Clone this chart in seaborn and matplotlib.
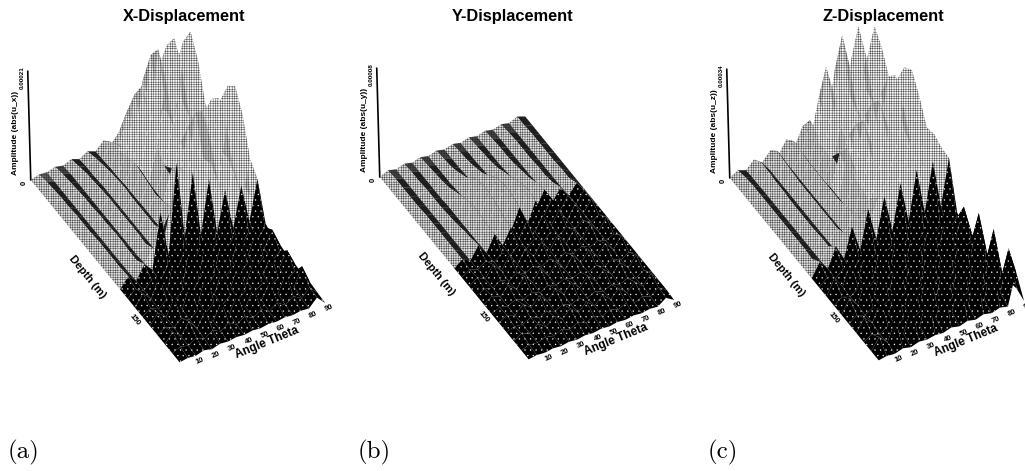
import numpy as np
import matplotlib as mpl
mpl.use("Agg")
import matplotlib.pyplot as plt
import seaborn as sns
from mpl_toolkits.mplot3d.art3d import Poly3DCollection

# -----------------------------
# data (height in % of the z axis)
# -----------------------------
thetas = list(range(0, 95, 5))
depths = list(range(0, 210, 10))
theta_ticks = [10, 20, 30, 40, 50, 60, 70, 80, 90]

x_disp = [
    [0,2,1,3,1,4,1,5,2,9,3,12,4,18,6,20,6,18,3],
    [0,4,1,5,2,6,2,8,3,16,6,38,14,62,24,68,26,60,10],
    [0,5,1,6,2,8,2,10,4,22,9,62,26,92,40,95,42,92,14],
    [0,6,1,7,2,9,3,12,4,24,12,78,32,106,46,110,48,110,16],
    [0,6,1,8,2,10,3,13,5,24,12,62,30,88,40,92,42,92,14],
    [0,7,1,8,2,11,3,14,5,22,10,40,20,55,26,60,28,60,12],
    [0,7,1,9,2,11,3,13,5,20,9,30,16,46,24,52,26,56,12],
    [0,7,1,9,2,11,3,13,5,18,9,36,20,68,34,74,36,80,14],
    [0,8,1,10,2,11,3,13,5,20,11,46,26,90,44,96,46,102,16],
    [0,8,1,10,2,11,3,13,6,24,12,50,28,100,48,105,48,110,16],
    [0,8,1,9,2,10,3,16,8,30,12,46,22,82,38,88,40,92,14],
    [0,8,1,9,3,14,6,40,14,45,14,40,16,55,24,60,26,60,10],
    [0,9,2,14,6,55,14,95,24,80,20,68,16,52,14,50,14,50,6],
    [0,6,1,8,3,16,5,22,6,20,6,18,5,16,5,16,5,14,2],
    [0,10,2,20,4,38,6,46,8,44,8,38,7,30,6,24,6,20,3],
    [0,5,1,7,2,10,3,12,4,12,4,11,3,10,3,9,3,8,1],
    [0,9,2,16,3,24,4,28,5,26,5,24,5,22,5,20,5,18,2],
    [0,4,1,6,2,8,2,9,3,9,3,8,3,8,3,7,3,7,1],
    [0,8,1,12,2,16,3,18,4,18,4,18,4,18,4,20,4,20,2],
    [0,3,1,5,1,6,2,7,2,7,2,7,2,7,2,7,2,9,1],
    [0,1,0,2,0,2,1,2,1,2,1,2,1,2,1,2,1,8,0],
]
y_disp = [
    [0,3,1,3,1,3,1,3,1,3,1,3,1,3,1,3,1,4,1],
    [0,4,1,4,1,4,1,4,1,4,1,4,1,4,1,4,1,4,1],
    [0,4,1,4,1,5,1,5,1,5,1,5,1,5,1,5,1,5,1],
    [0,4,1,5,1,6,1,8,2,7,2,6,1,5,1,5,1,5,1],
    [0,4,1,5,1,8,2,12,2,10,2,8,2,6,1,5,1,5,1],
    [0,5,1,5,2,12,2,20,3,16,3,12,2,8,1,6,1,5,1],
    [0,5,1,6,2,16,3,24,3,22,3,16,3,10,2,6,1,6,1],
    [0,5,1,7,2,18,3,24,4,24,3,20,3,14,2,8,1,6,1],
    [0,5,1,9,2,18,3,22,4,24,3,22,3,16,2,12,2,10,1],
    [0,5,1,10,2,16,3,18,3,20,3,20,3,16,2,13,2,12,1],
    [0,5,1,12,2,16,3,16,3,16,3,16,3,14,2,14,2,12,1],
    [0,4,1,6,2,7,2,8,2,8,2,8,2,7,2,7,2,6,1],
    [0,5,1,11,2,14,2,14,3,14,3,14,3,13,2,12,2,12,1],
    [0,3,1,5,1,6,2,6,2,6,2,6,2,6,2,5,2,5,1],
    [0,5,1,9,2,11,2,12,2,12,2,12,2,11,2,11,2,12,1],
    [0,3,1,4,1,5,1,5,2,5,2,5,2,5,1,5,1,5,1],
    [0,4,1,8,2,10,2,10,2,10,2,10,2,10,2,10,2,11,1],
    [0,2,1,4,1,4,1,4,1,4,1,4,1,4,1,4,1,5,1],
    [0,4,1,7,1,8,2,9,2,9,2,9,2,9,2,9,2,11,1],
    [0,2,1,3,1,4,1,4,1,4,1,4,1,4,1,4,1,6,1],
    [0,1,0,1,0,1,0,1,0,1,0,1,0,1,0,1,0,5,0],
]
z_disp = [
    [0,4,1,8,2,10,3,14,4,20,6,40,14,60,22,62,22,58,8],
    [0,6,2,13,4,18,5,21,7,34,12,77,30,100,40,102,40,96,14],
    [0,7,2,13,4,16,5,20,7,30,12,62,26,80,34,84,36,84,14],
    [0,7,2,12,4,15,5,18,7,26,10,42,18,52,24,60,28,64,12],
    [0,7,2,12,4,14,5,18,7,26,12,40,20,52,26,66,32,72,12],
    [0,7,2,11,4,14,5,18,8,38,16,58,26,72,36,90,44,92,14],
    [0,7,2,11,4,14,5,18,8,51,20,70,32,82,44,99,46,98,16],
    [0,7,2,11,4,14,5,18,8,42,18,60,28,70,36,82,40,82,14],
    [0,7,2,11,4,14,5,20,8,32,14,45,20,52,26,60,28,62,12],
    [0,7,2,12,4,14,6,22,8,28,12,38,18,48,24,60,28,64,10],
    [0,6,2,12,4,18,8,30,12,38,14,44,20,55,24,62,26,60,10],
    [0,12,3,20,6,32,8,42,12,48,14,54,16,60,18,62,18,59,6],
    [0,6,2,8,3,10,3,10,4,12,4,12,4,12,4,12,4,12,2],
    [0,14,3,24,5,34,6,38,7,40,7,40,7,38,6,34,6,31,3],
    [0,5,2,7,2,8,3,8,3,8,3,8,3,8,3,8,3,8,1],
    [0,12,3,24,5,32,6,36,7,38,7,38,7,38,6,40,6,42,3],
    [0,5,2,6,2,8,3,8,3,8,3,8,3,8,3,8,3,8,1],
    [0,11,3,22,5,30,6,34,7,36,7,38,7,38,6,40,6,44,3],
    [0,4,1,6,2,7,2,8,2,8,2,8,2,8,2,8,2,8,1],
    [0,10,2,20,4,28,5,32,6,34,6,36,6,38,5,40,5,43,3],
    [0,1,0,2,0,2,1,2,1,3,1,3,1,3,1,3,1,30,0],
]

titles = ["X-Displacement", "Y-Displacement", "Z-Displacement"]
captions = ["(a)", "(b)", "(c)"]
z_tops = ["0.00021", "0.00008", "0.00034"]
z_names = ["Amplitude (abs(u_x))", "Amplitude (abs(u_y))", "Amplitude (abs(u_z))"]
# depth where the surface turns dark, one value per theta cell
dark_x = [120] * 18
dark_y = [100, 100, 100, 100, 100, 100, 100, 100, 90, 90, 90, 90, 80, 80, 80, 80, 80, 80]
dark_z = [110] * 18

# -----------------------------
# layout in pixels
# -----------------------------
W, H = 1025, 471
SIDE = 364
panel_lefts = [-9, 340, 690]
panel_bottoms = [97, 100, 99]
title_x = [184, 513, 883]
caption_x = [8, 358, 708]

sns.set_theme(style="white")
plt.rcParams["font.family"] = ["Liberation Sans", "DejaVu Sans"]
greys = sns.color_palette("Greys", as_cmap=True)


def surface_cells(z, dark_from):
    cells = {"light": ([], []), "dark": ([], [])}
    for r in range(len(depths) - 1):
        for c in range(len(thetas) - 1):
            poly = [(thetas[c], depths[r], z[r, c]),
                    (thetas[c + 1], depths[r], z[r, c + 1]),
                    (thetas[c + 1], depths[r + 1], z[r + 1, c + 1]),
                    (thetas[c], depths[r + 1], z[r + 1, c])]
            dz_theta = (z[r, c + 1] + z[r + 1, c + 1] - z[r, c] - z[r + 1, c]) / 2
            falling = np.clip(-dz_theta / 3, 0, 1)
            if depths[r] >= dark_from[c]:
                cells["dark"][0].append(poly)
                cells["dark"][1].append(1.0)
            else:
                top = (z[r, c] + z[r + 1, c + 1]) / 2
                shade = 0.05 + 0.25 * falling if top > 25 else 0.2 + 0.7 * falling
                cells["light"][0].append(poly)
                cells["light"][1].append(shade)
    return cells


fig = plt.figure(figsize=(W / 100, H / 100), dpi=100)

for i, table in enumerate([x_disp, y_disp, z_disp]):
    z = np.array(table, dtype=float)
    ax = fig.add_axes([panel_lefts[i] / W, panel_bottoms[i] / H, SIDE / W, SIDE / H],
                      projection="3d", proj_type="ortho", elev=45, azim=-120)
    ax.set_box_aspect((168, 298, 154))
    cells = surface_cells(z, [dark_x, dark_y, dark_z][i])

    polys, shades = cells["light"]
    with mpl.rc_context({"hatch.color": "#222222", "hatch.linewidth": 0.28}):
        light = Poly3DCollection(polys, facecolors=greys(shades), edgecolors="none")
        light.set_hatch("+++++++")
    ax.add_collection3d(light, autolim=False)

    polys, shades = cells["dark"]
    with mpl.rc_context({"hatch.color": "#ffffff", "hatch.linewidth": 0.2}):
        dark = Poly3DCollection(polys, facecolors=greys(shades), edgecolors="none")
        dark.set_hatch("...")
    ax.add_collection3d(dark, autolim=False)

    ax.set_xlim(0, 90, view_margin=0)
    ax.set_ylim(200, 0, view_margin=0)
    ax.set_zlim(0, 100, view_margin=0)
    ax.set_axis_off()

    # axes drawn by hand: the paper has sheared labels around the box
    ax.plot([0, -1.4], [0, -1], [0, 100], color="black", lw=1.2)
    ax.text(-4.3, 0, 0, "0", zdir="z", fontsize=5.5, fontweight="bold", color="black", ha="center", va="center")
    ax.text(-4, -3, 94, z_tops[i], zdir="z", fontsize=4.5, fontweight="bold", color="black", ha="center", va="center")
    ax.text(-7, -5, 43, z_names[i], zdir="z", fontsize=6, fontweight="bold", color="black", ha="center", va="center")
    for t in theta_ticks:
        ax.text(t, 206, 0, str(t), zdir="x", fontsize=5.5, fontweight="bold", color="black", ha="center", va="center")
    ax.text(48, 213, 0, "Angle Theta", zdir="x", fontsize=8.5, fontweight="bold", color="black", ha="center", va="center")
    ax.text(-4.5, 150, 0, "150", zdir="y", fontsize=5.5, fontweight="bold", color="black", ha="center", va="center")
    ax.text(-10.6, 99, 0, "Depth (m)", zdir="y", fontsize=8, fontweight="bold", color="black", ha="center", va="center")

    fig.text(title_x[i] / W, 1 - 16 / H, titles[i], fontsize=11.8, fontweight="bold", color="black", ha="center", va="center")
    fig.text(caption_x[i] / W, 1 - 452 / H, captions[i], family="cmr10", fontsize=18, color="black", ha="left", va="center")

plt.savefig("out.png", dpi=100)
